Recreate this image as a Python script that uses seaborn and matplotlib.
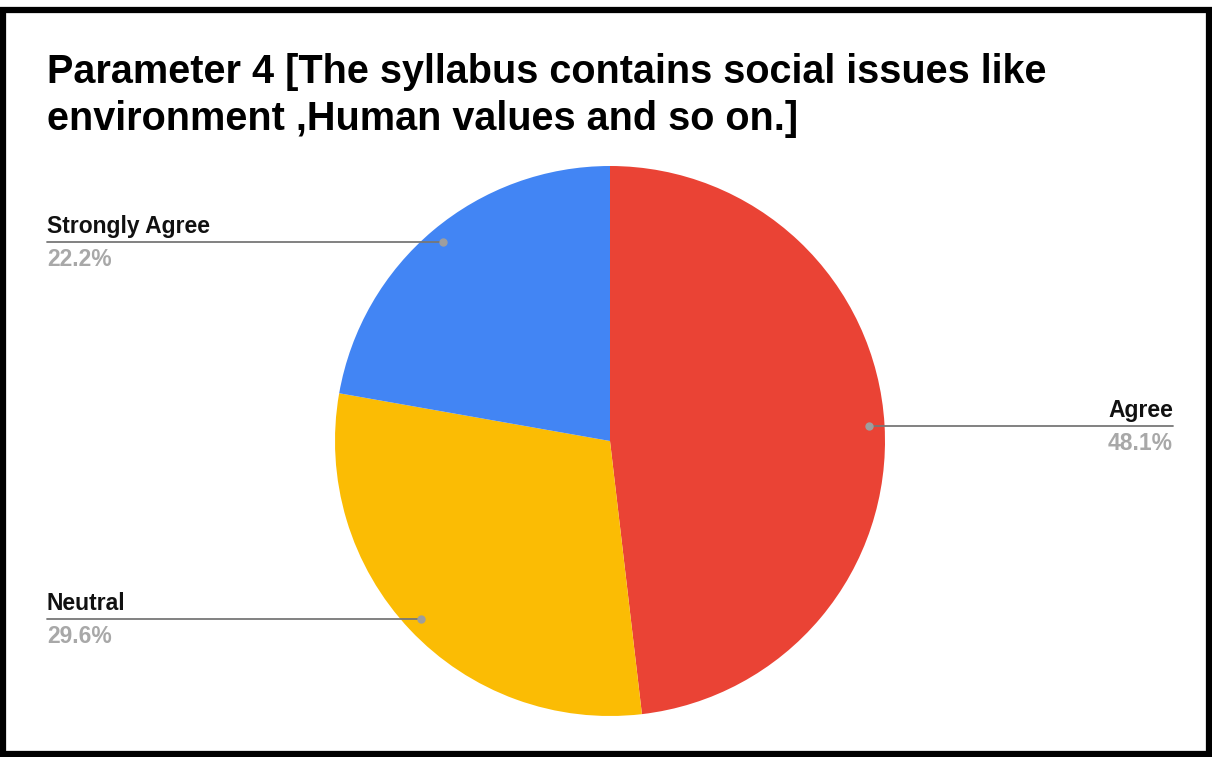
import matplotlib
matplotlib.use("Agg")
import matplotlib.pyplot as plt
import seaborn as sns
from matplotlib.lines import Line2D
from matplotlib.patches import Rectangle
import numpy as np

categories = ["Agree", "Neutral", "Strongly Agree"]
values = [48.1, 29.6, 22.2]
pct_labels = ["48.1%", "29.6%", "22.2%"]
colors_hex = ["#EA4335", "#FBBC04", "#4285F4"]
title_lines = ["Parameter 4 [The syllabus contains social issues like",
               "environment ,Human values and so on.]"]

sns.set_theme(style="white")
plt.rcParams['font.family'] = ['Liberation Sans', 'DejaVu Sans']

W, H = 1212, 757
fig = plt.figure(figsize=(W / 100, H / 100), dpi=100)
fig.patch.set_facecolor("white")

# pie axes: center (610, 441) px, radius 275 px
cx, cy, r = 610, 441, 275
ax = fig.add_axes([(cx - r) / W, (H - cy - r) / H, 2 * r / W, 2 * r / H])
palette = sns.color_palette(colors_hex)
wedges, _ = ax.pie(values, colors=palette, startangle=90, counterclock=False,
                   radius=1.0, wedgeprops=dict(linewidth=0))
ax.set_xlim(-1, 1)
ax.set_ylim(-1, 1)
ax.set_aspect("equal")
ax.axis("off")

def px(x, y):
    return (x / W, 1 - y / H)

# Title
tx = 47
fig.text(*px(tx, 83), title_lines[0], fontsize=28.5, fontweight="bold",
         color="black", ha="left", va="baseline")
fig.text(*px(tx, 130), title_lines[1], fontsize=28.5, fontweight="bold",
         color="black", ha="left", va="baseline")

# leader lines and labels
left_x, right_x = 47, 1173
for w, cat, pl in zip(wedges, categories, pct_labels):
    mid = np.deg2rad((w.theta1 + w.theta2) / 2)
    dx, dy = 0.945 * np.cos(mid), 0.945 * np.sin(mid)
    dpx = ax.transData.transform((dx, dy))
    dot_x = dpx[0]
    dot_y = H - dpx[1]
    if dx >= 0:
        x_end = right_x
        ha = "right"
    else:
        x_end = left_x
        ha = "left"
    fig.add_artist(Line2D([dot_x / W, x_end / W], [1 - dot_y / H, 1 - dot_y / H],
                          transform=fig.transFigure, color="#777777", lw=1.3))
    fig.add_artist(Line2D([dot_x / W], [1 - dot_y / H], transform=fig.transFigure,
                          marker="o", markersize=5, color="#9e9e9e", lw=0))
    fig.text(*px(x_end, dot_y - 9), cat, fontsize=16.5, fontweight="bold",
             color="#111111", ha=ha, va="baseline")
    fig.text(*px(x_end, dot_y + 24), pl, fontsize=16.5, fontweight="bold",
             color="#a8a8a8", ha=ha, va="baseline")

# black frame
fig.add_artist(Rectangle((3 / W, 3.5 / H), (1209 - 3) / W, (751 - 7) / H,
                         transform=fig.transFigure, fill=False,
                         edgecolor="black", linewidth=4.5))

fig.savefig("out.png", dpi=100, facecolor="white")
